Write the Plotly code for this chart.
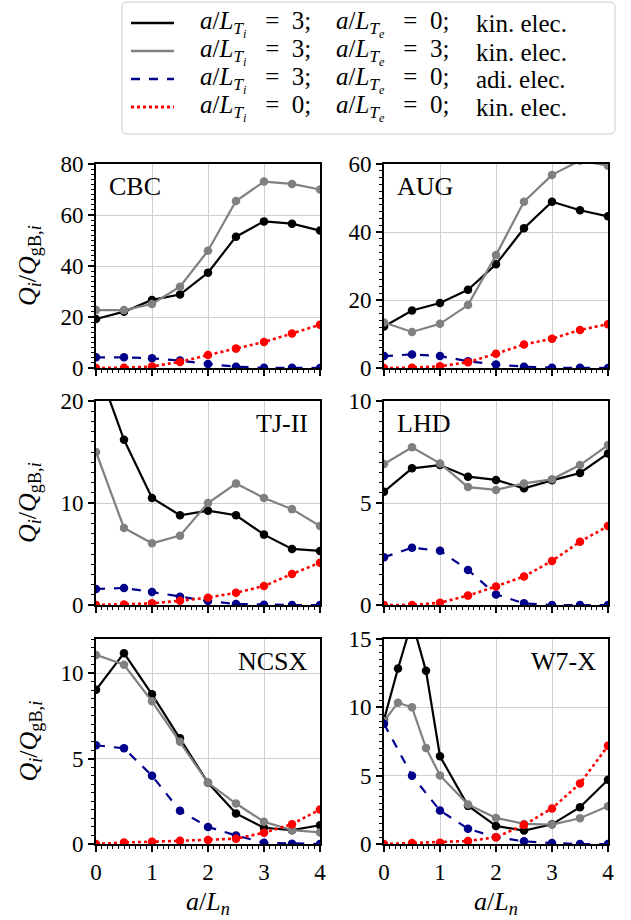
import plotly.graph_objects as go

# ---------------- data ----------------
x = [0, 0.5, 1, 1.5, 2, 2.5, 3, 3.5, 4]
x_w7x_fine = [0, 0.25, 0.5, 0.75, 1, 1.5, 2, 2.5, 3, 3.5, 4]

cbc_kin = [19.2, 22.1, 26.7, 28.8, 37.4, 51.5, 57.5, 56.6, 53.9]
cbc_kin_te = [22.7, 22.7, 25.1, 31.9, 46.0, 65.5, 73.1, 72.2, 70.0]
cbc_adi = [4.2, 4.2, 3.8, 2.9, 1.6, 0.5, 0.1, 0.05, 0.0]
cbc_tn = [0.0, 0.1, 0.6, 2.4, 5.1, 7.6, 10.2, 13.5, 17.0]

aug_kin = [12.2, 16.9, 19.1, 23.0, 30.5, 41.1, 48.9, 46.4, 44.6]
aug_kin_te = [13.4, 10.6, 13.0, 18.5, 33.2, 48.9, 56.8, 61.0, 59.5]
aug_adi = [3.5, 4.0, 3.5, 2.0, 1.0, 0.4, 0.1, 0.05, 0.0]
aug_tn = [0.0, 0.1, 0.5, 1.7, 4.2, 6.9, 8.6, 11.2, 12.9]

tj_kin = [23.8, 16.2, 10.5, 8.8, 9.25, 8.8, 6.9, 5.5, 5.3]
tj_kin_te = [15.0, 7.55, 6.05, 6.8, 10.0, 11.9, 10.5, 9.4, 7.75]
tj_adi = [1.57, 1.67, 1.27, 0.82, 0.39, 0.1, 0.03, 0.0, 0.0]
tj_tn = [0.0, 0.05, 0.16, 0.42, 0.72, 1.2, 1.86, 3.04, 4.15]

lhd_kin = [5.55, 6.7, 6.86, 6.29, 6.13, 5.72, 6.11, 6.47, 7.43]
lhd_kin_te = [6.91, 7.73, 6.94, 5.78, 5.64, 5.96, 6.16, 6.86, 7.84]
lhd_adi = [2.34, 2.81, 2.66, 1.72, 0.52, 0.08, 0.0, 0.0, 0.0]
lhd_tn = [0.0, 0.0, 0.11, 0.46, 0.91, 1.4, 2.16, 3.1, 3.87]

ncsx_kin = [9.03, 11.17, 8.76, 6.19, 3.58, 1.79, 0.95, 0.81, 1.1]
ncsx_kin_te = [11.07, 10.49, 8.35, 5.99, 3.58, 2.37, 1.3, 0.81, 0.68]
ncsx_adi = [5.78, 5.6, 4.0, 1.94, 1.0, 0.5, 0.07, 0.02, 0.0]
ncsx_tn = [0.0, 0.09, 0.13, 0.19, 0.23, 0.31, 0.66, 1.16, 2.02]

w7x_kin = [9.1, 12.84, 16.3, 12.67, 6.42, 2.79, 1.32, 0.98, 1.44, 2.69, 4.7]
w7x_kin_te = [9.0, 10.34, 10.0, 7.03, 5.02, 2.89, 1.91, 1.47, 1.42, 1.88, 2.77]
w7x_adi = [8.8, 5.0, 2.45, 1.12, 0.49, 0.2, 0.07, 0.0, 0.0]
w7x_tn = [0.0, 0.07, 0.1, 0.22, 0.49, 1.4, 2.6, 4.43, 7.18]

panels = [
    ("CBC", x, cbc_kin, cbc_kin_te, cbc_adi, cbc_tn, 80, 20, "left"),
    ("AUG", x, aug_kin, aug_kin_te, aug_adi, aug_tn, 60, 20, "left"),
    ("TJ-II", x, tj_kin, tj_kin_te, tj_adi, tj_tn, 20, 10, "right"),
    ("LHD", x, lhd_kin, lhd_kin_te, lhd_adi, lhd_tn, 10, 5, "left"),
    ("NCSX", x, ncsx_kin, ncsx_kin_te, ncsx_adi, ncsx_tn, 12, 5, "right"),
    ("W7-X", x_w7x_fine, w7x_kin, w7x_kin_te, w7x_adi, w7x_tn, 15, 5, "right"),
]

# legend: (a/L_Ti value, a/L_Te value, electron model)
legend_ti = ["3", "3", "3", "0"]
legend_te = ["0", "3", "0", "0"]
legend_elec = ["kin. elec.", "kin. elec.", "adi. elec.", "kin. elec."]

SP = "&nbsp;"
def grad(sub, val):
    return (f"<i>a</i>/<i>L</i><sub><i>T</i><sub><i>{sub}</i></sub></sub>"
            f"{SP*3}={SP*2}{val};")

# ---------------- styles ----------------
W, H = 631, 920
FONT = "Liberation Serif"
styles = [
    dict(color="black", dash="solid", width=2.2),
    dict(color="#808080", dash="solid", width=2.2),
    dict(color="#00008B", dash="dash", width=2.2),
    dict(color="#FF0000", dash="dot", width=2.6),
]
col_px = [(96, 320), (384, 608)]
row_px = [(164, 368), (401, 605), (639, 844)]

def px(xp):
    return xp / W
def py(yp):
    return 1 - yp / H

fig = go.Figure()

for i, (name, xs, kin, kin_te, adi, tn, ymax, dt, side) in enumerate(panels):
    r, c = divmod(i, 2)
    k = i + 1
    xa = "x" if k == 1 else f"x{k}"
    ya = "y" if k == 1 else f"y{k}"
    series = [(xs, kin), (xs, kin_te), (x, adi), (x, tn)]
    for s, (sx, sy) in enumerate(series):
        st = styles[s]
        fig.add_trace(go.Scatter(
            x=sx, y=sy, mode="lines+markers", xaxis=xa, yaxis=ya,
            line=dict(color=st["color"], dash=st["dash"], width=st["width"]),
            marker=dict(color=st["color"], size=8.5), showlegend=False,
        ))
    x0, x1 = col_px[c]
    y0, y1 = row_px[r]
    axcommon = dict(
        showline=True, linecolor="black", linewidth=2, mirror=True,
        ticks="outside", ticklen=6, tickwidth=1.5, tickcolor="black",
        showgrid=True, gridcolor="#cfcfcf", gridwidth=1, zeroline=False,
        automargin=False,
        tickfont=dict(family=FONT, size=23, color="black"),
    )
    fig.update_layout(**{
        ("xaxis" if k == 1 else f"xaxis{k}"): dict(
            domain=[px(x0), px(x1)], range=[0, 4], anchor=ya, tickmode="array",
            tickvals=[0, 1, 2, 3, 4], showticklabels=(r == 2),
            minor=dict(ticks="outside", dtick=0.1, ticklen=3, tickwidth=1, tickcolor="black", showgrid=False),
            **axcommon),
        ("yaxis" if k == 1 else f"yaxis{k}"): dict(
            domain=[py(y1), py(y0)], range=[0, ymax], anchor=xa, dtick=dt, tick0=0,
            minor=dict(ticks="outside", dtick=dt / 10, ticklen=3, tickwidth=1, tickcolor="black", showgrid=False),
            **axcommon),
    })
    # panel label
    if side == "left":
        fig.add_annotation(x=px(x0 + 11), y=py(y0 + 22), xref="paper", yref="paper",
                           text=name, showarrow=False, xanchor="left", yanchor="middle",
                           font=dict(family=FONT, size=26, color="black"))
    else:
        fig.add_annotation(x=px(x1 - 10), y=py(y0 + 22), xref="paper", yref="paper",
                           text=name, showarrow=False, xanchor="right", yanchor="middle",
                           font=dict(family=FONT, size=26, color="black"))
    if c == 0:
        fig.add_annotation(x=px(29), y=py((y0 + y1) / 2), xref="paper", yref="paper",
                           text="<i>Q</i><sub><i>i</i></sub>/<i>Q</i><sub>gB,<i>i</i></sub>",
                           textangle=-90, showarrow=False, xanchor="center", yanchor="middle",
                           font=dict(family=FONT, size=26, color="black"))
    if r == 2:
        fig.add_annotation(x=px((x0 + x1) / 2), y=py(903), xref="paper", yref="paper",
                           text="<i>a</i>/<i>L</i><sub><i>n</i></sub>",
                           showarrow=False, xanchor="center", yanchor="middle",
                           font=dict(family=FONT, size=26, color="black"))

# ---------------- legend (drawn as a framed key) ----------------
bx0, bx1, by0, by1, rad = 122, 615, 2, 134, 5
path = (f"M {px(bx0 + rad)} {py(by0)} L {px(bx1 - rad)} {py(by0)} "
        f"Q {px(bx1)} {py(by0)} {px(bx1)} {py(by0 + rad)} "
        f"L {px(bx1)} {py(by1 - rad)} Q {px(bx1)} {py(by1)} {px(bx1 - rad)} {py(by1)} "
        f"L {px(bx0 + rad)} {py(by1)} Q {px(bx0)} {py(by1)} {px(bx0)} {py(by1 - rad)} "
        f"L {px(bx0)} {py(by0 + rad)} Q {px(bx0)} {py(by0)} {px(bx0 + rad)} {py(by0)} Z")
fig.add_shape(type="path", path=path, xref="paper", yref="paper",
              line=dict(color="#cccccc", width=1), fillcolor="rgba(255,255,255,0.8)")
row_y = [23, 51, 79, 107]
LFS = 25
for s in range(4):
    st = styles[s]
    yy = py(row_y[s] + 1)
    fig.add_shape(type="line", xref="paper", yref="paper",
                  x0=px(131), x1=px(174), y0=py(row_y[s]), y1=py(row_y[s]),
                  line=dict(color=st["color"], dash=st["dash"], width=st["width"] + 0.3))
    fig.add_annotation(x=px(198), y=yy, xref="paper", yref="paper",
                       text=grad("i", legend_ti[s]), showarrow=False, xanchor="left", yanchor="middle",
                       font=dict(family=FONT, size=LFS, color="black"))
    fig.add_annotation(x=px(334), y=yy, xref="paper", yref="paper",
                       text=grad("e", legend_te[s]), showarrow=False, xanchor="left", yanchor="middle",
                       font=dict(family=FONT, size=LFS, color="black"))
    fig.add_annotation(x=px(474), y=yy, xref="paper", yref="paper",
                       text=legend_elec[s].replace(" ", SP), showarrow=False,
                       xanchor="left", yanchor="middle",
                       font=dict(family=FONT, size=LFS, color="black"))

fig.update_layout(
    width=W, height=H, margin=dict(l=0, r=0, t=0, b=0, autoexpand=False),
    paper_bgcolor="white", plot_bgcolor="white",
    font=dict(family=FONT, color="black"),
    showlegend=False,
)

fig.write_html("out.html", config={"displayModeBar": False},
               post_script="document.body.style.margin='0px';document.body.style.padding='0px';")
